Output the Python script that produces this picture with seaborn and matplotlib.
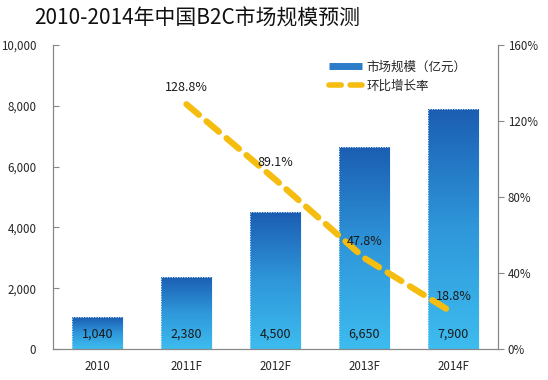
import matplotlib
matplotlib.use('Agg')
import matplotlib.pyplot as plt
import seaborn as sns
import numpy as np
import pandas as pd
from matplotlib.colors import LinearSegmentedColormap
from matplotlib.lines import Line2D
from matplotlib.ticker import FuncFormatter

#data
years = ['2010', '2011F', '2012F', '2013F', '2014F']
market_size = [1040, 2380, 4500, 6650, 7900]
growth_years = ['2011F', '2012F', '2013F', '2014F']
growth_rate = [128.8, 89.1, 47.8, 18.8]

sns.set_style('white')
plt.rcParams['font.family'] = ['Noto Sans CJK SC', 'DejaVu Sans']

df_bar = pd.DataFrame({'year': years, 'size': market_size})
df_line = pd.DataFrame({'year': growth_years, 'rate': growth_rate})
df_line['pos'] = [years.index(y) for y in growth_years]

fig = plt.figure(figsize=(5.48, 3.8), dpi=100)
ax = fig.add_axes([0.0967, 0.0816, 0.812, 0.800])

sns.barplot(data=df_bar, x='year', y='size', ax=ax, width=0.57, color='#2a7cc8')

#gradient fill for each bar, dark on top
cmap = LinearSegmentedColormap.from_list('blu', ['#3dbcef', '#2f97da', '#1b5db2'])
grad = np.linspace(0, 1, 256).reshape(-1, 1)
for p in ax.patches:
  x0, w, h = p.get_x(), p.get_width(), p.get_height()
  im = ax.imshow(grad, extent=[x0, x0 + w, 0, h], origin='lower', aspect='auto', cmap=cmap, zorder=2)
  im.set_clip_path(p)
  p.set_facecolor('none')
  p.set_edgecolor('#d6ebf8')
  p.set_linestyle((0, (1.5, 1.5)))
  p.set_linewidth(0.6)
  p.set_zorder(3)

for i, v in enumerate(market_size):
  ax.text(i, 480, f'{v:,}', ha='center', va='center', fontsize=9, color='#1a1a1a', zorder=4)

ax.set_xlim(-0.5, 4.5)
ax.set_ylim(0, 10000)
ax.set_yticks(range(0, 10001, 2000))
ax.yaxis.set_major_formatter(FuncFormatter(lambda v, _: f'{int(v):,}'))
ax.set_xlabel('')
ax.set_ylabel('')
ax.tick_params(axis='y', direction='in', length=4, color='#888888', labelsize=8.3, pad=12, left=True)
ax.tick_params(axis='x', length=0, labelsize=8.3, pad=8)
for s in ['top', 'right']:
  ax.spines[s].set_visible(False)
for s in ['left', 'bottom']:
  ax.spines[s].set_color('#888888')
  ax.spines[s].set_linewidth(0.9)

ax2 = ax.twinx()
sns.lineplot(data=df_line, x='pos', y='rate', ax=ax2, color='#f5bd0f', linewidth=4.5,
             dashes=False, zorder=5)
ax2.lines[0].set_linestyle((0, (2.6, 1.6)))
ax2.lines[0].set_dash_capstyle('round')
for x, v in zip(df_line['pos'], growth_rate):
  ax2.text(x, v + 9, f'{v}%', ha='center', va='center', fontsize=9, color='#1a1a1a', zorder=6)
ax2.set_ylim(0, 160)
ax2.set_yticks(range(0, 161, 40))
ax2.yaxis.set_major_formatter(FuncFormatter(lambda v, _: f'{int(v)}%'))
ax2.set_xlim(-0.5, 4.5)
ax2.set_xlabel('')
ax2.set_ylabel('')
ax2.tick_params(axis='y', direction='out', length=4, color='#888888', labelsize=8.3, pad=3, right=True)
for s in ['top', 'left', 'bottom']:
  ax2.spines[s].set_visible(False)
ax2.spines['right'].set_color('#888888')
ax2.spines['right'].set_linewidth(0.9)

handles = [Line2D([], [], color='#2a7cc8', linewidth=5, solid_capstyle='butt'),
           Line2D([], [], color='#f5bd0f', linewidth=4, linestyle=(0, (2.2, 1.6)), dash_capstyle='round')]
fig.legend(handles, ['市场规模（亿元）', '环比增长率'], loc='upper left', bbox_to_anchor=(0.58, 0.87),
           frameon=False, fontsize=9, handlelength=2.6, labelspacing=0.45, handletextpad=0.4)

fig.text(0.062, 0.952, '2010-2014年中国B2C市场规模预测', fontsize=15, fontweight='medium',
         ha='left', va='center', color='#111111')

fig.savefig('out.png', dpi=100)
